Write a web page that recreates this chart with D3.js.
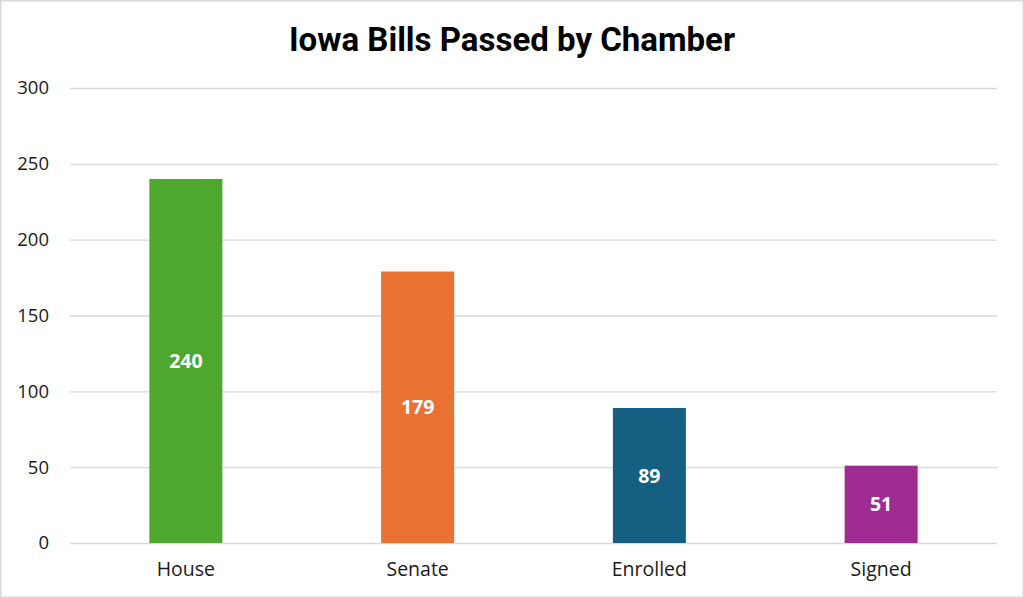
<!DOCTYPE html>
<html><head><meta charset="utf-8">
<script src="https://cdn.jsdelivr.net/npm/d3@7"></script>
<style>body{margin:0;background:#fff}svg{display:block}</style>
</head><body>
<svg id="c" width="1024" height="598"></svg>
<script>
const categories = ["House", "Senate", "Enrolled", "Signed"];
const values = [240, 179, 89, 51];
const colors = ["#4EA72E", "#E97132", "#156082", "#A02B93"];
const yTicks = [0, 50, 100, 150, 200, 250, 300];
const title = "Iowa Bills Passed by Chamber";

const W = 1024, H = 598;
const m = {left: 70, right: 27, top: 88, bottom: 55};
const svg = d3.select("#c");
svg.append("rect").attr("x", 0.75).attr("y", 0.75).attr("width", W - 1.5).attr("height", H - 1.5)
  .attr("fill", "#fff").attr("stroke", "#d9d9d9").attr("stroke-width", 1.5);

const x = d3.scaleBand().domain(categories).range([m.left, W - m.right]).paddingInner(0.685).paddingOuter(0.3425);
const y = d3.scaleLinear().domain([0, 300]).range([H - m.bottom, m.top]);

const font = "'Open Sans', 'Liberation Sans', sans-serif";
const g = svg.append("g");
const ya = g.append("g").attr("transform", `translate(${m.left},0)`)
  .call(d3.axisLeft(y).tickValues(yTicks).tickSize(-(W - m.left - m.right)).tickPadding(21));
ya.select(".domain").remove();
ya.selectAll(".tick line").attr("stroke", "#d9d9d9").attr("stroke-width", 1.3);
ya.selectAll(".tick text").attr("fill", "#1a1a1a").style("font-family", font).style("font-size", "18.5px");

g.selectAll("rect.bar").data(values).enter().append("rect").attr("class", "bar")
  .attr("x", (d, i) => x(categories[i])).attr("width", x.bandwidth())
  .attr("y", d => y(d)).attr("height", d => y(0) - y(d))
  .attr("fill", (d, i) => colors[i]);

g.selectAll("text.val").data(values).enter().append("text").attr("class", "val")
  .attr("x", (d, i) => x(categories[i]) + x.bandwidth() / 2)
  .attr("y", d => (y(d) + y(0)) / 2).attr("dy", "0.36em")
  .attr("text-anchor", "middle").attr("fill", "#fff")
  .style("font-family", font).style("font-weight", "bold").style("font-size", "19.5px")
  .text(d => d);

const xa = g.append("g").attr("transform", `translate(0,${y(0)})`)
  .call(d3.axisBottom(x).tickSize(0).tickPadding(19));
xa.select(".domain").remove();
xa.selectAll(".tick text").attr("fill", "#1a1a1a").style("font-family", font).style("font-size", "19.5px");

svg.append("text").attr("x", 512).attr("y", 51).attr("text-anchor", "middle")
  .attr("fill", "#000").style("font-family", "Roboto, 'Liberation Sans', sans-serif").style("font-weight", "bold").style("font-size", "33px")
  .text(title);
</script>
</body></html>
